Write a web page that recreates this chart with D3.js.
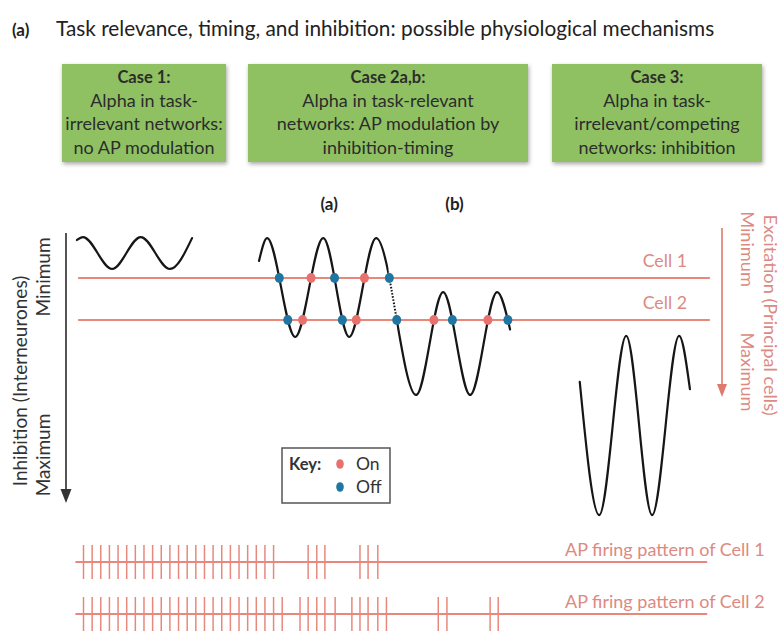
<!DOCTYPE html>
<html>
<head>
<meta charset="utf-8">
<script src="https://cdn.jsdelivr.net/npm/d3@7"></script>
<style>
  body { margin: 0; background: #fff; }
  svg { display: block; }
  text { font-family: Lato, "Open Sans", sans-serif; }
</style>
</head>
<body>
<svg id="chart" width="782" height="631"></svg>
<script>
// ---------- data ----------
// Panel headings
const caseTitles = ["Case 1:", "Case 2a,b:", "Case 3:"];
const caseLines = [
  ["Alpha in task-", "irrelevant networks:", "no AP modulation"],
  ["Alpha in task-relevant", "networks: AP modulation by", "inhibition-timing"],
  ["Alpha in task-", "irrelevant/competing", "networks: inhibition"]
];
const subLabels = ["(a)", "(b)"];
const subLabelTimes = [480, 712];

// Firing thresholds of the two principal cells (inhibition level, a.u.)
const cellNames = ["Cell 1", "Cell 2"];
const cellThresholds = [2.0, 4.0];
const cellSpan = [15, 1185];          // ms

// Alpha waves: turning points as [time (ms), inhibition level (a.u.)]
const waveCase1 = [[13, 0.19], [24, 0.05], [78, 1.57], [131, 0.05], [185, 1.57], [226, 0.1]];
const waveCase2 = [[350, 1.19], [365, 0.1], [417, 4.81], [469, 0.1], [517, 4.81], [567, 0.1],
                   [641, 7.57], [691, 2.67], [741, 7.57], [791, 2.67], [815, 4.45]];
const waveCase3 = [[944, 6.95], [980, 13.29], [1030, 4.76], [1078, 13.29], [1128, 4.76], [1148, 7.29]];
const dottedSpan = [590, 605];        // ms, transition from (a) to (b)

// Threshold crossings: [time (ms), cell index, state]
const crossings = [
  [389, 0, "off"], [443, 0, "on"], [491, 0, "off"], [548, 0, "on"], [587, 0, "off"],
  [404, 1, "off"], [430, 1, "on"], [500, 1, "off"], [533, 1, "on"], [604, 1, "off"],
  [676, 1, "on"], [709, 1, "off"], [780, 1, "on"], [811, 1, "off"]
];

// Action potential times (ms)
const spikesCell1 = [25, 41, 57, 73, 89, 105, 121, 137, 153, 169, 185, 201, 217, 233, 249,
                     265, 281, 297, 313, 329, 345, 361, 377,
                     441, 457, 472, 537, 552, 570];
const spikesCell2 = [25, 41, 57, 73, 89, 105, 121, 137, 153, 169, 185, 201, 217, 233, 249,
                     265, 281, 297, 313, 329, 345, 361, 377, 393,
                     426, 441, 457, 472, 491, 522, 537, 552, 570, 586,
                     682, 698, 778, 793];
const trainSpan = [10, 1180];
const trainNames = ["AP firing pattern of Cell 1", "AP firing pattern of Cell 2"];

const keyItems = [["on", "On"], ["off", "Off"]];

// ---------- drawing ----------
const W = 782, H = 631;
const svg = d3.select("#chart");
const colors = { on: "#e9716d", off: "#1f76a2", cell: "#e8887c", cellText: "#dc8a82", wave: "#161616" };

const x = d3.scaleLinear().domain([0, 1000]).range([70, 610]);
const y = d3.scaleLinear().domain([0, 10]).range([236, 446]);
const waveLine = d3.line().x(d => x(d[0])).y(d => y(d[1])).curve(d3.curveMonotoneX);

const defs = svg.append("defs");
const shadow = defs.append("filter").attr("id", "shadow")
  .attr("x", "-10%").attr("y", "-10%").attr("width", "120%").attr("height", "130%");
shadow.append("feDropShadow").attr("dx", 1).attr("dy", 2).attr("stdDeviation", 2)
  .attr("flood-color", "#000").attr("flood-opacity", 0.35);

// Title
svg.append("text").attr("x", 12).attr("y", 36)
  .attr("font-size", 17).attr("font-weight", 700).attr("fill", "#222").text("(a)");
svg.append("text").attr("x", 56).attr("y", 36)
  .attr("font-size", 20.8).attr("fill", "#222")
  .text("Task relevance, timing, and inhibition: possible physiological mechanisms");

// Case boxes
const boxes = [[62, 164], [248, 280], [552, 210]];
boxes.forEach(([bx, bw], i) => {
  const g = svg.append("g");
  g.append("rect").attr("x", bx).attr("y", 64).attr("width", bw).attr("height", 98)
    .attr("fill", "#8fc164").attr("filter", "url(#shadow)");
  const lines = [caseTitles[i]].concat(caseLines[i]);
  lines.forEach((t, j) => {
    g.append("text").attr("x", bx + bw / 2).attr("y", 83 + j * 23.5)
      .attr("text-anchor", "middle").attr("font-size", j === 0 ? 16.5 : 18)
      .attr("font-weight", j === 0 ? 700 : 400).attr("fill", "#2c2c2c").text(t);
  });
});

// Sub-panel labels
svg.selectAll(".sub").data(subLabels).join("text")
  .attr("x", (d, i) => x(subLabelTimes[i])).attr("y", 210)
  .attr("text-anchor", "middle").attr("font-size", 17).attr("font-weight", 700)
  .attr("fill", "#222").text(d => d);

// Inhibition axis (left)
svg.append("line").attr("x1", 66).attr("x2", 66).attr("y1", 233).attr("y2", 492)
  .attr("stroke", "#555").attr("stroke-width", 2);
svg.append("path").attr("d", "M60.5,489L71.5,489L66,503Z").attr("fill", "#333");
const leftLabels = [["Inhibition (Interneurones)", 19, 381], ["Minimum", 42, 277], ["Maximum", 42, 455]];
leftLabels.forEach(([t, lx, ly]) => {
  svg.append("text").attr("transform", `translate(${lx},${ly}) rotate(-90)`)
    .attr("text-anchor", "middle").attr("dominant-baseline", "central")
    .attr("font-size", 19).attr("fill", "#333").text(t);
});

// Excitation axis (right)
svg.append("line").attr("x1", 722).attr("x2", 722).attr("y1", 228).attr("y2", 386)
  .attr("stroke", "#e07a6c").attr("stroke-width", 1.6);
svg.append("path").attr("d", "M717,384L727,384L722,397Z").attr("fill", "#e07a6c");
const rightLabels = [["Excitation (Principal cells)", 771, 315], ["Minimum", 748, 249], ["Maximum", 748, 372]];
rightLabels.forEach(([t, lx, ly]) => {
  svg.append("text").attr("transform", `translate(${lx},${ly}) rotate(90)`)
    .attr("text-anchor", "middle").attr("dominant-baseline", "central")
    .attr("font-size", 18.2).attr("fill", colors.cellText).text(t);
});

// Cell thresholds
cellThresholds.forEach((v, i) => {
  svg.append("line").attr("x1", x(cellSpan[0])).attr("x2", x(cellSpan[1]))
    .attr("y1", y(v)).attr("y2", y(v))
    .attr("stroke", colors.cell).attr("stroke-width", 1.8);
  svg.append("text").attr("x", 687).attr("y", y(v) - 11)
    .attr("text-anchor", "end").attr("font-size", 17.8)
    .attr("fill", colors.cellText).text(cellNames[i]);
});

// Clip regions for the solid / dotted parts of the Case 2 wave
const x0 = x(dottedSpan[0]), x1 = x(dottedSpan[1]);
const clipSolid = defs.append("clipPath").attr("id", "clipSolid");
clipSolid.append("rect").attr("x", 0).attr("y", 0).attr("width", x0).attr("height", H);
clipSolid.append("rect").attr("x", x1).attr("y", 0).attr("width", W - x1).attr("height", H);
defs.append("clipPath").attr("id", "clipDotted")
  .append("rect").attr("x", x0).attr("y", 0).attr("width", x1 - x0).attr("height", H);

const waveStyle = sel => sel.attr("fill", "none").attr("stroke", colors.wave)
  .attr("stroke-width", 2.2).attr("stroke-linecap", "round");

svg.append("path").datum(waveCase1).attr("d", waveLine).call(waveStyle);
svg.append("path").datum(waveCase3).attr("d", waveLine).call(waveStyle);
const wave2 = svg.append("path").datum(waveCase2).attr("d", waveLine).call(waveStyle)
  .attr("clip-path", "url(#clipSolid)");
svg.append("path").datum(waveCase2).attr("d", waveLine).call(waveStyle)
  .attr("stroke-dasharray", "1.6,1.6").attr("stroke-linecap", "butt").attr("stroke-width", 2)
  .attr("clip-path", "url(#clipDotted)");

// Locate each crossing on the rendered Case 2 wave
const node = wave2.node();
const total = node.getTotalLength();
const samples = d3.range(0, total + 0.25, 0.25).map(l => node.getPointAtLength(l));
function crossingPoint(t, level) {
  const ty = y(level), tx = x(t);
  let best = null, bestD = Infinity;
  for (let k = 1; k < samples.length; k++) {
    const a = samples[k - 1], b = samples[k];
    if ((a.y - ty) * (b.y - ty) <= 0 && a.y !== b.y) {
      const f = (ty - a.y) / (b.y - a.y);
      const cx = a.x + f * (b.x - a.x);
      const d = Math.abs(cx - tx);
      if (d < bestD) { bestD = d; best = cx; }
    }
  }
  return [best === null ? tx : best, ty];
}
svg.selectAll(".cross").data(crossings).join("ellipse")
  .attr("class", "cross")
  .each(function (d) {
    const [cx, cy] = crossingPoint(d[0], cellThresholds[d[1]]);
    d3.select(this).attr("cx", cx).attr("cy", cy);
  })
  .attr("rx", 4.5).attr("ry", 5).attr("fill", d => colors[d[2]]);

// Key
const key = svg.append("g");
key.append("rect").attr("x", 282).attr("y", 448).attr("width", 108).attr("height", 55)
  .attr("fill", "#fff").attr("stroke", "#555").attr("stroke-width", 1.5);
key.append("text").attr("x", 289).attr("y", 470).attr("font-size", 16.5).attr("font-weight", 700)
  .attr("fill", "#333").text("Key:");
keyItems.forEach(([k, lab], i) => {
  key.append("ellipse").attr("cx", 340).attr("cy", 464 + i * 23).attr("rx", 3.8).attr("ry", 4.8)
    .attr("fill", colors[k]);
  key.append("text").attr("x", 356).attr("y", 470 + i * 23).attr("font-size", 17.5)
    .attr("fill", "#333").text(lab);
});

// Spike trains
[spikesCell1, spikesCell2].forEach((spk, i) => {
  const by = 562 + i * 52;
  const g = svg.append("g");
  g.append("line").attr("x1", x(trainSpan[0])).attr("x2", x(trainSpan[1]))
    .attr("y1", by).attr("y2", by).attr("stroke", colors.cell).attr("stroke-width", 1.8);
  g.selectAll("line.spk").data(spk).join("line").attr("class", "spk")
    .attr("x1", d => x(d)).attr("x2", d => x(d))
    .attr("y1", by - 17).attr("y2", by + 17)
    .attr("stroke", colors.cell).attr("stroke-width", 1.5);
  g.append("text").attr("x", 565).attr("y", by - 6).attr("font-size", 18)
    .attr("fill", colors.cellText).text(trainNames[i]);
});
</script>
</body>
</html>
